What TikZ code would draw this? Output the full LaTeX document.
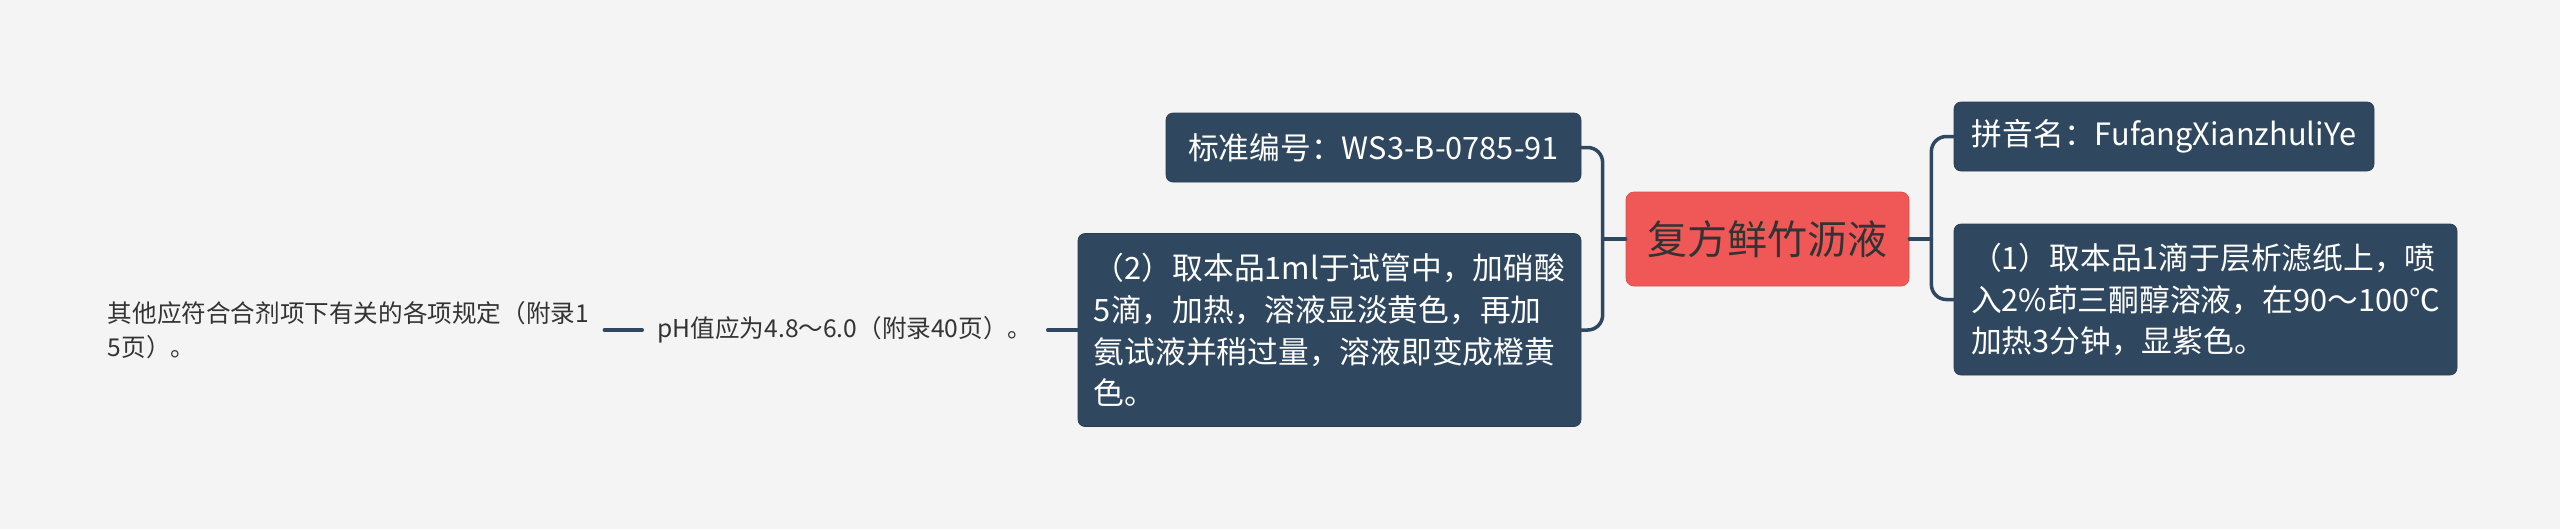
\documentclass[tikz,border=0pt]{standalone}
\usepackage{fontspec}
\setmainfont{Noto Sans CJK SC}
\usepackage{tikz}

\definecolor{hintergrund}{HTML}{F4F4F4}
\definecolor{kastenblau}{HTML}{30485F}
\definecolor{wurzelrot}{HTML}{F05858}
\definecolor{schrift}{HTML}{333333}

\begin{document}
\begin{tikzpicture}[line cap=round, line join=round,
		kasten/.style={fill=kastenblau, draw=kastenblau!85!black, line width=0.4pt,
			rounded corners=0.14cm, text=white, inner sep=0pt, align=left,
			font=\fontsize{17.5}{23.7}\selectfont},
		wurzelbox/.style={fill=wurzelrot, draw=wurzelrot!90!black, line width=0.4pt,
			rounded corners=0.16cm, text=schrift, inner sep=0pt,
			font=\fontsize{22.8}{28}\selectfont},
		blatt/.style={text=schrift, inner sep=0.3cm, align=left,
			font=\fontsize{14}{19.4}\selectfont},
		ast/.style={draw=kastenblau, line width=2pt}]
		
		% --- Hintergrund (1 px = 0.02 cm) ---
		\fill[hintergrund] (0,0) rectangle (51.2,-10.58);
		
		% --- Zentrum ---
		\node[wurzelbox, minimum width=5.66cm, minimum height=1.88cm] (wurzel) at (35.35,-4.78) {复方鲜竹沥液};
		
		% --- linke Seite ---
		\node[kasten, minimum width=8.3cm, minimum height=1.38cm] (norm) at (27.47,-2.95) {标准编号：WS3-B-0785-91};
		\node[kasten, minimum width=10.06cm, minimum height=3.86cm] (probe2) at (26.59,-6.6)
			{（2）取本品1ml于试管中，加硝酸\\5滴，加热，溶液显淡黄色，再加\\氨试液并稍过量，溶液即变成橙黄\\色。};
		\node[blatt] (ph) at (16.9,-6.6) {pH值应为4.8～6.0（附录40页）。};
		\node[blatt] (sonst) at (6.97,-6.6) {其他应符合合剂项下有关的各项规定（附录1\\5页）。};
		
		% --- rechte Seite ---
		\node[kasten, minimum width=8.4cm, minimum height=1.38cm] (pinyin) at (43.28,-2.73) {拼音名：FufangXianzhuliYe};
		\node[kasten, minimum width=10.06cm, minimum height=3.02cm] (probe1) at (44.11,-5.99)
			{（1）取本品1滴于层析滤纸上，喷\\入2\%茚三酮醇溶液，在90～100℃\\加热3分钟，显紫色。};
		
		% --- Verbindungen ---
		\coordinate (lk) at ([xshift=-0.46cm]wurzel.west);
		\coordinate (rk) at ([xshift=0.44cm]wurzel.east);
		\draw[ast] (wurzel.west) -- (lk);
		\draw[ast, rounded corners=0.3cm] (lk) |- (norm.east);
		\draw[ast, rounded corners=0.3cm] (lk) |- (probe2.east);
		\draw[ast] (wurzel.east) -- (rk);
		\draw[ast, rounded corners=0.3cm] (rk) |- (pinyin.west);
		\draw[ast, rounded corners=0.3cm] (rk) |- (probe1.west);
		\draw[ast] (probe2.west) -- (ph.east);
		\draw[ast] (ph.west) -- (sonst.east);
		
	\end{tikzpicture}
\end{document}
